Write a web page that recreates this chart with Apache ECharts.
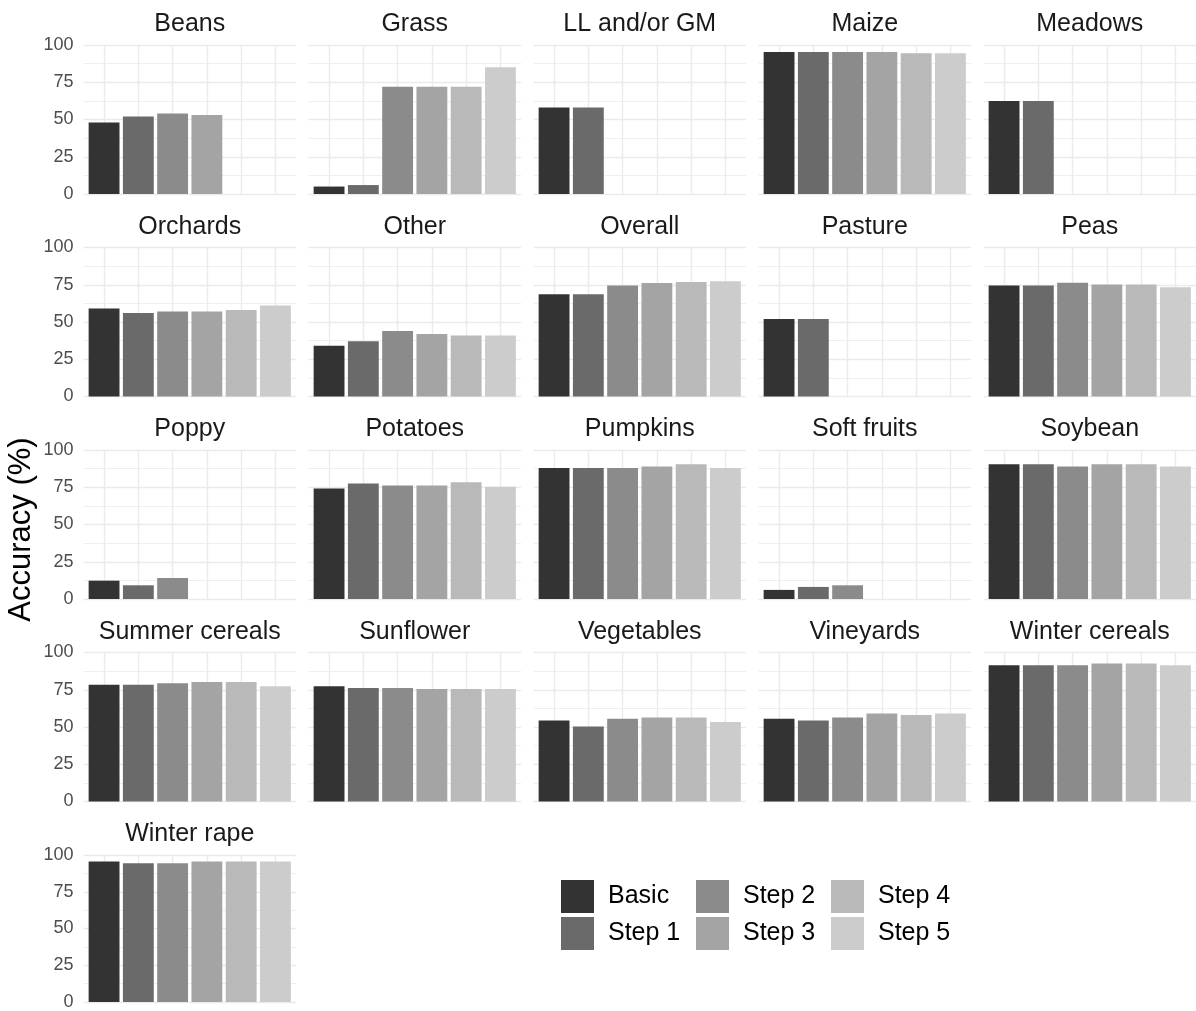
<!DOCTYPE html>
<html>
<head>
<meta charset="utf-8">
<script src="https://cdn.jsdelivr.net/npm/echarts@6/dist/echarts.min.js"></script>
<style>
  html, body { margin: 0; padding: 0; background: #ffffff; }
  #chart { width: 1196px; height: 1011px; }
</style>
</head>
<body>
<div id="chart"></div>
<script>
// Classification accuracy per crop class for each processing step
const crops = ['Beans', 'Grass', 'LL and/or GM', 'Maize', 'Meadows',
  'Orchards', 'Other', 'Overall', 'Pasture', 'Peas',
  'Poppy', 'Potatoes', 'Pumpkins', 'Soft fruits', 'Soybean',
  'Summer cereals', 'Sunflower', 'Vegetables', 'Vineyards', 'Winter cereals',
  'Winter rape'];

const steps = ['Basic', 'Step 1', 'Step 2', 'Step 3', 'Step 4', 'Step 5'];

// one array per step, aligned with crops (null = not evaluated)
const basic = [48, 5, 58, 95.3, 62.5, 59, 34, 68.6, 52, 74.5, 12.3, 74.2, 88, 6.1, 90.4, 78.4, 77.3, 54.4, 55.5, 91.5, 95.5];
const step1 = [52, 6, 58, 95.3, 62.5, 56, 37, 68.6, 52, 74.5, 9.2, 77.6, 88, 8.1, 90.4, 78.4, 76.2, 50.3, 54.4, 91.5, 94.4];
const step2 = [54, 72, null, 95.3, null, 57, 44, 74.5, null, 76.3, 14.1, 76.2, 88, 9.2, 89, 79.3, 76.2, 55.5, 56.4, 91.5, 94.4];
const step3 = [53, 72, null, 95.3, null, 57, 42, 76.1, null, 75.2, null, 76.2, 89, null, 90.4, 80.2, 75.5, 56.4, 59.1, 92.6, 95.5];
const step4 = [null, 72, null, 94.4, null, 58, 41, 76.8, null, 75.2, null, 78.3, 90.4, null, 90.4, 80.2, 75.5, 56.4, 58, 92.6, 95.5];
const step5 = [null, 85, null, 94.4, null, 61, 41, 77.4, null, 73.4, null, 75.3, 88, null, 89, 77.3, 75.5, 53.3, 59.1, 91.5, 95.5];

const yTicks = [0, 25, 50, 75, 100];

const stepValues = [basic, step1, step2, step3, step4, step5];
const fills = ['#333333', '#6A6A6A', '#8B8B8B', '#A4A4A4', '#B9B9B9', '#CCCCCC'];

// facet layout
const nCols = 5;
const panelLeft = 83.5, panelTop = 45, panelW = 212.5, panelH = 149;
const colStep = 225, rowStep = 202.5;
const xMin = 0.4, xMax = 6.6;
const barW = 0.9 * panelW / (xMax - xMin);
const gridColor = '#EBEBEB';
const font = 'Liberation Sans, Arial, sans-serif';

const grids = [], xAxes = [], yAxes = [], titles = [], series = [];

crops.forEach((crop, p) => {
  const c = p % nCols, r = Math.floor(p / nCols);
  const left = panelLeft + c * colStep;
  const top = panelTop + r * rowStep;
  grids.push({ left: left, top: top, width: panelW, height: panelH, containLabel: false });
  xAxes.push({
    type: 'value', gridIndex: p, min: xMin, max: xMax,
    axisLine: { show: false },
    axisTick: { show: false, customValues: steps.map((s, i) => i + 1) },
    axisLabel: { show: false, customValues: steps.map((s, i) => i + 1) },
    splitLine: { show: true, lineStyle: { color: gridColor, width: 1.4 } }
  });
  const yAx = {
    type: 'value', gridIndex: p, min: yTicks[0], max: yTicks[yTicks.length - 1],
    interval: yTicks[1] - yTicks[0],
    axisLine: { show: false },
    axisTick: { show: false },
    minorTick: { show: false, splitNumber: 2 },
    minorSplitLine: { show: true, lineStyle: { color: gridColor, width: 0.8 } },
    splitLine: { show: true, lineStyle: { color: gridColor, width: 1.4 } },
    axisLabel: { show: c === 0, fontSize: 18, color: '#4D4D4D', margin: 10, fontFamily: font }
  };
  if (p === 10) {
    yAx.name = 'Accuracy (%)';
    yAx.nameLocation = 'middle';
    yAx.nameRotate = 90;
    yAx.nameGap = 47;
    yAx.nameTextStyle = { fontSize: 31, color: '#000000', fontFamily: font, padding: [0, 10, 0, 0] };
  }
  yAxes.push(yAx);
  titles.push({
    text: crop, left: left + panelW / 2, top: top - 33, textAlign: 'center', padding: 0,
    textStyle: { fontSize: 25, fontWeight: 'normal', color: '#1A1A1A', fontFamily: font }
  });
  steps.forEach((step, s) => {
    const v = stepValues[s][p];
    series.push({
      type: 'bar', name: step, xAxisIndex: p, yAxisIndex: p,
      barWidth: barW, barGap: '-100%',
      itemStyle: { color: fills[s] },
      silent: true,
      data: v === null ? [] : [[s + 1, v]]
    });
  });
});

// legend: three columns, two keys each
const legendLefts = [561, 696, 831];
const legends = legendLefts.map((lx, k) => ({
  left: lx, top: 880, orient: 'vertical', padding: 0,
  itemWidth: 33, itemHeight: 33, itemGap: 4, icon: 'rect',
  selectedMode: false,
  data: [steps[2 * k], steps[2 * k + 1]],
  textStyle: { fontSize: 25, color: '#000000', fontFamily: font, padding: [0, 0, 0, 9] }
}));

const chart = echarts.init(document.getElementById('chart'), null, { renderer: 'canvas' });
chart.setOption({
  backgroundColor: '#ffffff',
  animation: false,
  color: fills,
  title: titles,
  legend: legends,
  grid: grids,
  xAxis: xAxes,
  yAxis: yAxes,
  series: series
});
</script>
</body>
</html>
